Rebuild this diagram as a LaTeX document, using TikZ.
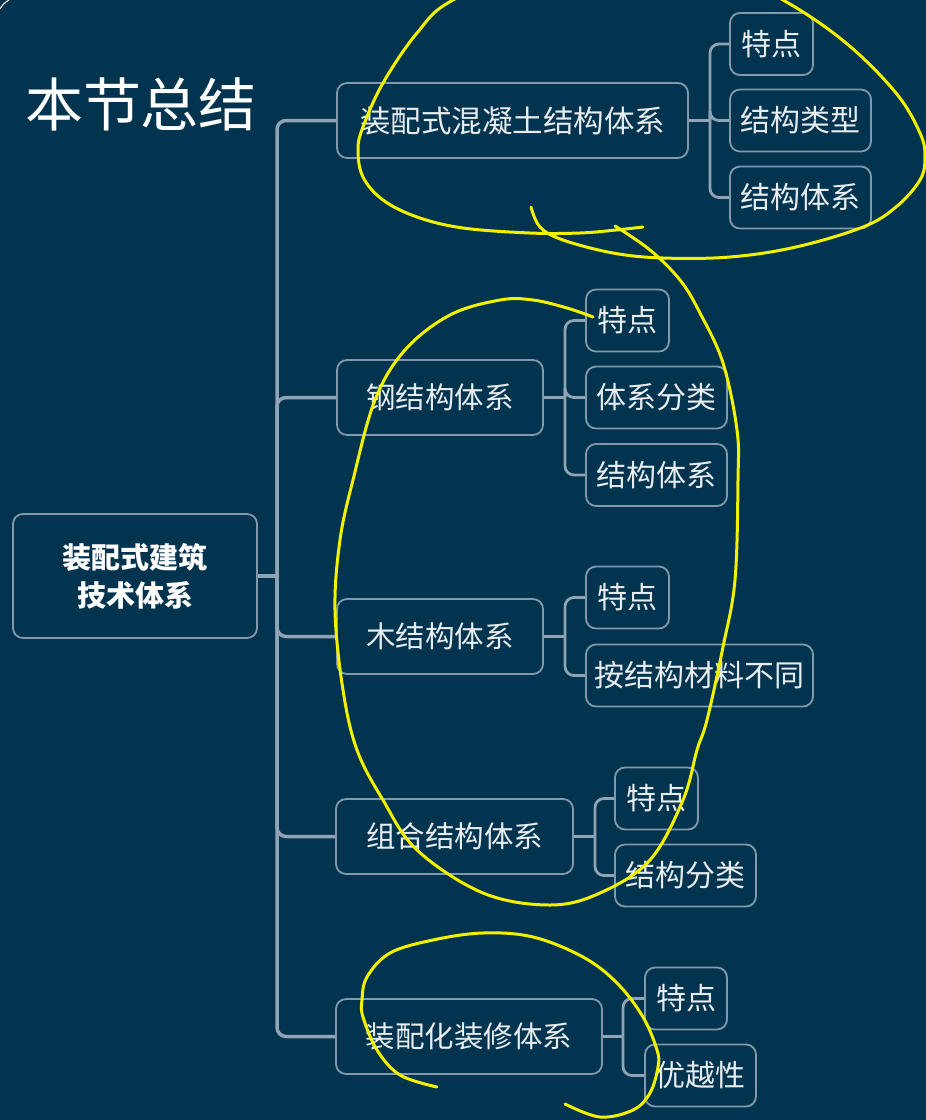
\documentclass[tikz,border=0pt]{standalone}
\usepackage{fontspec}
\newfontfamily\cjk{Noto Sans CJK SC}
\definecolor{bg}{HTML}{03344F}
\definecolor{edge}{HTML}{8FA4B4}
\definecolor{frame}{HTML}{8299AB}
\definecolor{txt}{HTML}{E8EDF0}
\definecolor{hl}{HTML}{F2F200}
\begin{document}
\begin{tikzpicture}[x=1pt,y=-1pt,
  box/.style={draw=frame, fill=bg, line width=1.8pt, rounded corners=10pt, text=txt,
    inner sep=0pt, minimum height=75pt, font=\cjk\fontsize{29.5}{36}\selectfont},
  leaf/.style={box, minimum height=62pt, font=\cjk\fontsize{30}{36}\selectfont},
  trunk/.style={draw=edge, line width=3.5pt, rounded corners=9pt},
  link/.style={draw=edge, line width=2.8pt, rounded corners=9pt},
  pen/.style={draw=hl, line width=3pt, line cap=round, line join=round}]
\fill[bg] (0,0) rectangle (926,1120);
\useasboundingbox (0,0) rectangle (926,1120);
\draw[white, line width=1pt] (0,9) to[bend left=15] (9,0);

\node[text=white, inner sep=0pt, font=\cjk\fontsize{58}{64}\selectfont] (title) at (141,104) {本节总结};

\node[box, minimum width=244pt, minimum height=124pt, text=white, align=center,
  font=\cjk\bfseries\fontsize{29}{38}\selectfont] (root) at (135,576) {装配式建筑\\技术体系};

\node[box, minimum width=351pt, font=\cjk\fontsize{30.5}{36}\selectfont] (a) at (512.5,120.5) {装配式混凝土结构体系};
\node[box, minimum width=206pt] (b) at (440,397.5) {钢结构体系};
\node[box, minimum width=206pt] (c) at (440,636.5) {木结构体系};
\node[box, minimum width=237pt] (d) at (454.5,836.5) {组合结构体系};
\node[box, minimum width=266pt] (e) at (469,1036.5) {装配化装修体系};

\node[leaf, minimum width=83pt]  (a1) at (771.5,44) {特点};
\node[leaf, minimum width=141pt] (a2) at (800.5,120.5) {结构类型};
\node[leaf, minimum width=141pt] (a3) at (800.5,197.5) {结构体系};
\node[leaf, minimum width=83pt]  (b1) at (627.5,320.5) {特点};
\node[leaf, minimum width=141pt] (b2) at (656.5,397.5) {体系分类};
\node[leaf, minimum width=141pt] (b3) at (656.5,475) {结构体系};
\node[leaf, minimum width=83pt]  (c1) at (627.5,597.5) {特点};
\node[leaf, minimum width=227pt] (c2) at (699.5,675.5) {按结构材料不同};
\node[leaf, minimum width=83pt]  (d1) at (656.5,798.5) {特点};
\node[leaf, minimum width=141pt] (d2) at (685.5,875.5) {结构分类};
\node[leaf, minimum width=82pt]  (e1) at (686,998.5) {特点};
\node[leaf, minimum width=111pt] (e2) at (700.5,1075.5) {优越性};

\coordinate (j0) at (277,576);
\coordinate (ja) at (710,120.5);
\coordinate (jb) at (565,397.5);
\coordinate (jc) at (565,636.5);
\coordinate (jd) at (595,836.5);
\coordinate (je) at (623,1036.5);

\draw[trunk] (root.east) -- (j0);
\foreach \n in {a,b,c,d,e} \draw[trunk] (j0) |- (\n.west);

\draw[link] (a.east) -- (ja);
\foreach \n in {a1,a2,a3} \draw[link] (ja) |- (\n.west);
\draw[link] (b.east) -- (jb);
\foreach \n in {b1,b2,b3} \draw[link] (jb) |- (\n.west);
\draw[link] (c.east) -- (jc);
\foreach \n in {c1,c2} \draw[link] (jc) |- (\n.west);
\draw[link] (d.east) -- (jd);
\foreach \n in {d1,d2} \draw[link] (jd) |- (\n.west);
\draw[link] (e.east) -- (je);
\foreach \n in {e1,e2} \draw[link] (je) |- (\n.west);

\begin{scope}
\clip (0,0) rectangle (926,1120);
\draw[pen] plot[smooth, tension=0.6] coordinates {(531,207) (540,227) (563,240) (613,253) (663,258) (730,257) (796,247) (863,227) (896,207) (920,180) (925,157) (920,133) (896,93) (846,43) (783,0) (700,-40) (550,-40) (453,0) (417,33) (383,83) (363,127) (358,150) (363,177) (383,200) (417,217) (463,228) (530,233) (580,233) (616,230) (643,227)};
\draw[pen] plot[smooth, tension=0.6] coordinates {(615,226) (650,250) (680,280) (700,313) (723,363) (737,430) (738,480) (735,580) (723,647) (707,720) (697,750) (683,800) (650,860) (600,893) (550,905) (483,893) (417,850) (383,800) (357,750) (343,690) (335,610) (340,540) (353,480) (375,400) (405,350) (450,315) (500,300) (533,300) (567,308) (593,317)};
\draw[pen] plot[smooth, tension=0.6] coordinates {(437,1087) (400,1075) (377,1050) (363,1017) (362,1000) (367,977) (390,953) (433,940) (483,933) (533,937) (583,957) (617,983) (643,1017) (657,1050) (658,1067) (650,1093) (633,1110) (600,1117) (565,1104)};
\end{scope}
\end{tikzpicture}
\end{document}
